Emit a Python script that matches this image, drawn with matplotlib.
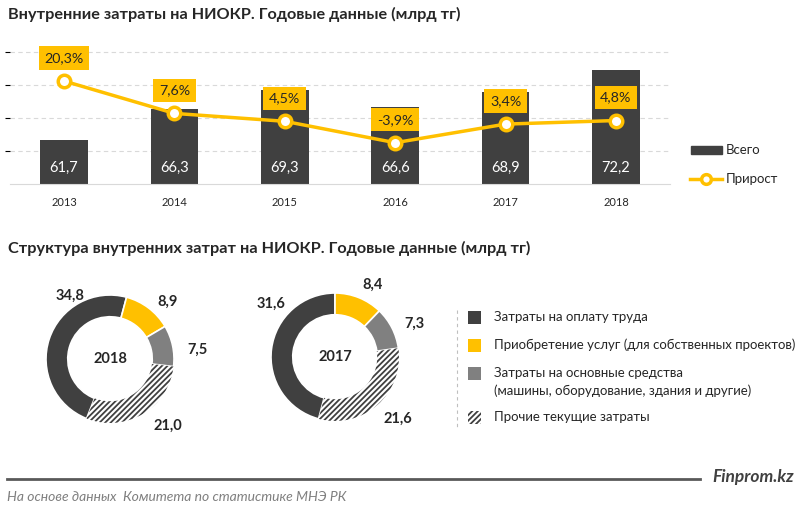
import matplotlib.pyplot as plt
from matplotlib.lines import Line2D
import numpy as np

plt.rcParams['font.family'] = ['Lato', 'DejaVu Sans']
plt.rcParams['hatch.linewidth'] = 1.3

# Данные
years = ['2013', '2014', '2015', '2016', '2017', '2018']
totals = [61.7, 66.3, 69.3, 66.6, 68.9, 72.2]
growth = [20.3, 7.6, 4.5, -3.9, 3.4, 4.8]

struct_names = [
    'Затраты на оплату труда',
    'Приобретение услуг (для собственных проектов)',
    'Затраты на основные средства\n(машины, оборудование, здания и другие)',
    'Прочие текущие затраты',
]
struct_2018 = [34.8, 8.9, 7.5, 21.0]
struct_2017 = [31.6, 8.4, 7.3, 21.6]

# Цвета
DARK = '#404040'
YELLOW = '#FFC000'
GRAY = '#808080'
GRID = '#d9d9d9'
W, H = 800, 508


def fig_rect(x, y, w, h):
    # пиксели (от верхнего левого угла) -> доли фигуры
    return [x / W, 1 - (y + h) / H, w / W, h / H]


def num(v, suffix=''):
    return f'{v:.1f}'.replace('.', ',') + suffix


fig = plt.figure(figsize=(8, 5.08), dpi=100)
fig.patch.set_facecolor('white')

# ---------- Верхний график ----------
ax = fig.add_axes(fig_rect(10, 40, 660, 144))
x = np.arange(len(years))
ax.bar(x, totals, width=0.43, color=DARK, zorder=2)
ax.set_ylim(55, 76.8)
ax.set_xlim(-0.49, 5.49)
ax.set_yticks([60, 65, 70, 75])
ax.yaxis.grid(True, color=GRID, linestyle=(0, (4, 3)), linewidth=0.8)
ax.set_axisbelow(True)
ax.tick_params(axis='y', left=False, labelleft=False)
ax.set_xticks(x, years)
ax.tick_params(axis='x', length=0, pad=9, labelsize=8, labelcolor='#262626')
for s in ['top', 'right', 'left']:
    ax.spines[s].set_visible(False)
ax.spines['bottom'].set_color(GRID)
for xi, v in zip(x, totals):
    ax.annotate(num(v), xy=(xi, 55), xytext=(0, 16), textcoords='offset pixels',
                ha='center', va='center', color='white', fontsize=10.5, zorder=3)

ax2 = ax.twinx()
ax2.set_ylim(-20.1, 36.4)
ax2.axis('off')
ax2.plot(x, growth, color=YELLOW, lw=2.5, marker='o', markersize=9,
         markerfacecolor='white', markeredgecolor=YELLOW, markeredgewidth=2.5, zorder=4)
for xi, v in zip(x, growth):
    ax2.annotate(num(v, '%'), xy=(xi, v), xytext=(0, 23), textcoords='offset pixels',
                 ha='center', va='center', fontsize=10.3, color='#262626', zorder=5,
                 bbox=dict(boxstyle='square,pad=0.4', facecolor=YELLOW, edgecolor='none'))

# ---------- Кольцевые диаграммы ----------
pie_colors = [DARK, YELLOW, GRAY, 'white']
donuts = [
    (struct_2018, '2018', (110, 359), 15,
     [(-0.63, 0.98), (0.90, 0.89), (1.37, 0.14), (0.90, -1.04)]),
    (struct_2017, '2017', (335, 357), 0,
     [(-1.0, 0.83), (0.59, 1.13), (1.24, 0.52), (0.98, -0.96)]),
]
R = 64
for vals, yr, (cx, cy), rot, lab_pos in donuts:
    pax = fig.add_axes(fig_rect(cx - R, cy - R, 2 * R, 2 * R))
    start = 90 + 360 * vals[0] / sum(vals) - rot
    wedges, _ = pax.pie(vals, colors=pie_colors, startangle=start, counterclock=False,
                        radius=1, wedgeprops=dict(width=0.34, edgecolor='white', linewidth=1.2))
    wedges[3].set_hatch('//////')
    wedges[3].set_edgecolor(DARK)
    wedges[3].set_linewidth(0)
    pax.set_xlim(-1, 1)
    pax.set_ylim(-1, 1)
    pax.text(0, 0, yr, ha='center', va='center', fontsize=10.5, fontweight='bold', color='#262626')
    for v, (lx, ly) in zip(vals, lab_pos):
        pax.text(lx, ly, num(v), ha='center', va='center', fontsize=10.5,
                 fontweight='bold', color='#262626', clip_on=False)

# ---------- Оформление поверх ----------
ov = fig.add_axes([0, 0, 1, 1])
ov.set_xlim(0, W)
ov.set_ylim(H, 0)
ov.axis('off')

ov.text(8, 14, 'Внутренние затраты на НИОКР. Годовые данные (млрд тг)',
        ha='left', va='center', fontsize=11.7, fontweight='bold', color='#262626')
ov.text(8, 248, 'Структура внутренних затрат на НИОКР. Годовые данные (млрд тг)',
        ha='left', va='center', fontsize=11.7, fontweight='bold', color='#262626')

# легенда верхнего графика
ov.add_patch(plt.Rectangle((691, 146), 31, 8, color=DARK))
ov.text(726, 150, 'Всего', ha='left', va='center', fontsize=9.5, color='#262626')
ov.add_line(Line2D([690, 722], [179, 179], color=YELLOW, lw=2.5))
ov.plot([706], [179], marker='o', markersize=7, markerfacecolor='white',
        markeredgecolor=YELLOW, markeredgewidth=2.5)
ov.text(726, 179, 'Прирост', ha='left', va='center', fontsize=9.5, color='#262626')

# легенда структуры
ov.add_line(Line2D([457, 457], [310, 427], color='#bfbfbf', lw=0.8, linestyle=(0, (3, 3))))
leg_y = [317, 345, 373, 417]
text_y = [317, 345, 382, 417]
for i, name in enumerate(struct_names):
    face = pie_colors[i]
    if i == 3:
        ov.add_patch(plt.Rectangle((468, leg_y[i] - 6.5), 13, 13, facecolor='white',
                                   edgecolor=DARK, hatch='//////', linewidth=0))
    else:
        ov.add_patch(plt.Rectangle((468, leg_y[i] - 6.5), 13, 13, facecolor=face, edgecolor='none'))
    ov.text(494, text_y[i], name, ha='left', va='center', fontsize=9.5,
            color='#262626', linespacing=1.55)

# подвал
ov.add_line(Line2D([7, 700], [479, 479], color='#595959', lw=2))
ov.text(712, 477, 'Finprom.kz', ha='left', va='center', fontsize=12.5,
        fontweight='bold', style='italic', color='#404040')
ov.text(7, 497, 'На основе данных  Комитета по статистике МНЭ РК', ha='left', va='center',
        fontsize=10, style='italic', color='#7f7f7f')

fig.savefig('out.png', dpi=100, facecolor='white')
